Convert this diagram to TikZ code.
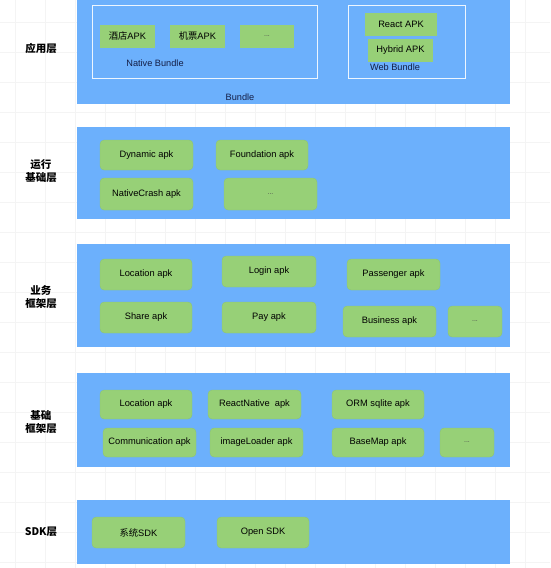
\documentclass[tikz,border=0pt]{standalone}
\usepackage{fontspec}
\setmainfont{Liberation Sans}
\newfontfamily\cjk{Noto Sans CJK SC}
\definecolor{layerblue}{RGB}{108,176,252}
\definecolor{apkgreen}{RGB}{151,208,119}
\definecolor{gridgray}{RGB}{244,244,244}
\definecolor{navytext}{RGB}{20,30,70}
\begin{document}
\begin{tikzpicture}[x=1pt,y=-1pt,
  layer/.style={fill=layerblue,draw=none},
  apk/.style={fill=apkgreen,draw=apkgreen!94!black,line width=0.3pt,rounded corners=4pt,
    font=\fontsize{9.3}{10}\selectfont,text=black},
  flatapk/.style={fill=apkgreen,draw=none,font=\fontsize{9.3}{10}\selectfont,text=black},
  dots/.style={font=\fontsize{7}{8}\selectfont,text=black!70},
  bundle/.style={draw=white!88!layerblue,line width=0.8pt,fill=none},
  caption/.style={font=\fontsize{9.2}{10}\selectfont,text=navytext},
  layername/.style={font=\cjk\bfseries\fontsize{10.5}{12.5}\selectfont,align=center,text=black}]
\useasboundingbox (0,0) rectangle (550,568);
\fill[white] (0,0) rectangle (550,568);
% faint background grid
\foreach \gx in {15,45,...,545} \draw[gridgray,line width=0.5pt] (\gx,0) -- (\gx,568);
\foreach \gy in {22,52,...,562} \draw[gridgray,line width=0.5pt] (0,\gy) -- (550,\gy);

% layer bands
\fill[layer] (77,0) rectangle (510,104);
\fill[layer] (77,127) rectangle (510,219);
\fill[layer] (77,244) rectangle (510,347);
\fill[layer] (77,373) rectangle (510,467);
\fill[layer] (77,500) rectangle (510,564);

% layer names
\node[layername] (l1) at (41,48) {应用层};
\node[layername] (l2) at (41,171) {运行\\基础层};
\node[layername] (l3) at (41,297) {业务\\框架层};
\node[layername] (l4) at (41,422) {基础\\框架层};
\node[layername] (l5) at (41,532) {SDK层};

% application layer
\draw[bundle] (92,5) rectangle (317,78);
\draw[bundle] (348,5) rectangle (465,78);
\node[flatapk,minimum width=55pt,minimum height=23pt] (hotel) at (127.5,36) {{\cjk 酒店}APK};
\node[flatapk,minimum width=55pt,minimum height=23pt] (flight) at (197.5,36) {{\cjk 机票}APK};
\node[flatapk,dots,minimum width=54pt,minimum height=23pt] (more1) at (267,36) {...};
\node[caption] (native) at (155,63) {Native Bundle};
\node[flatapk,minimum width=72pt,minimum height=23pt] (react) at (401,24) {React APK};
\node[flatapk,minimum width=65pt,minimum height=23pt] (hybrid) at (400.5,50) {Hybrid APK};
\node[caption] (web) at (395,67) {Web Bundle};
\node[caption] (bundle) at (240,97) {Bundle};

% runtime layer
\node[apk,minimum width=93pt,minimum height=30pt] (dyn) at (146.5,155) {Dynamic apk};
\node[apk,minimum width=92pt,minimum height=30pt] (found) at (262,155) {Foundation apk};
\node[apk,minimum width=93pt,minimum height=32pt] (crash) at (146.5,194) {NativeCrash apk};
\node[apk,dots,minimum width=93pt,minimum height=32pt] (more2) at (270.5,194) {...};

% business framework layer
\node[apk,minimum width=92pt,minimum height=31pt] (loc1) at (146,274.5) {Location apk};
\node[apk,minimum width=94pt,minimum height=31pt] (login) at (269,271.5) {Login apk};
\node[apk,minimum width=93pt,minimum height=31pt] (pass) at (393.5,274.5) {Passenger apk};
\node[apk,minimum width=92pt,minimum height=31pt] (share) at (146,317.5) {Share apk};
\node[apk,minimum width=94pt,minimum height=31pt] (pay) at (269,317.5) {Pay apk};
\node[apk,minimum width=93pt,minimum height=31pt] (biz) at (389.5,321.5) {Business apk};
\node[apk,dots,minimum width=54pt,minimum height=31pt] (more3) at (475,321.5) {...};

% base framework layer
\node[apk,minimum width=92pt,minimum height=29pt] (loc2) at (146,404.5) {Location apk};
\node[apk,minimum width=93pt,minimum height=29pt] (rn) at (254.5,404.5) {ReactNative\ \ apk};
\node[apk,minimum width=92pt,minimum height=29pt] (orm) at (378,404.5) {ORM sqlite apk};
\node[apk,minimum width=93pt,minimum height=29pt] (comm) at (149.5,442.5) {Communication apk};
\node[apk,minimum width=93pt,minimum height=29pt] (img) at (256.5,442.5) {imageLoader apk};
\node[apk,minimum width=92pt,minimum height=29pt] (map) at (378,442.5) {BaseMap apk};
\node[apk,dots,minimum width=54pt,minimum height=29pt] (more4) at (467,442.5) {...};

% SDK layer
\node[apk,minimum width=93pt,minimum height=31pt] (syssdk) at (138.5,532.5) {{\cjk 系统}SDK};
\node[apk,minimum width=92pt,minimum height=31pt] (opensdk) at (263,532.5) {Open SDK};
\end{tikzpicture}
\end{document}
